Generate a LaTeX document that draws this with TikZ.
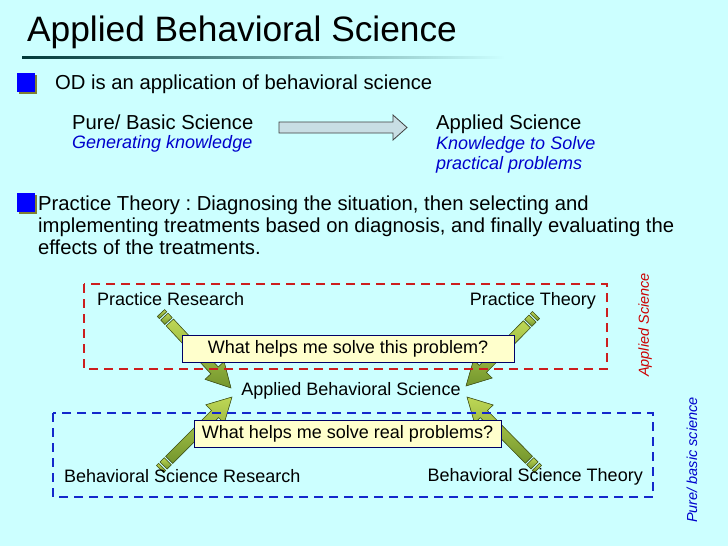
\documentclass[tikz,border=0pt]{standalone}
\usepackage{fontspec}
\setmainfont{Liberation Sans}
\usetikzlibrary{calc}
\frenchspacing
\definecolor{bg}{RGB}{204,255,255}
\definecolor{bul}{RGB}{0,0,255}
\definecolor{bulsh}{RGB}{128,128,50}
\definecolor{itblue}{RGB}{0,0,204}
\definecolor{itred}{RGB}{204,0,0}
\definecolor{dred}{RGB}{204,30,30}
\definecolor{dblue}{RGB}{20,40,204}
\definecolor{qfill}{RGB}{255,255,204}
\definecolor{qline}{RGB}{0,0,102}
\definecolor{arlight}{RGB}{190,215,85}
\definecolor{ardark}{RGB}{115,150,45}
\definecolor{arline}{RGB}{70,90,30}
\definecolor{blk}{RGB}{200,222,228}

% green striped arrow from #1 to #2
\newcommand\stripearrow[2]{%
  \path let \p1=(#1), \p2=(#2) in \pgfextra{%
    \pgfmathsetmacro\arang{atan2(\y2-\y1,\x2-\x1)}%
    \pgfmathsetmacro\arlen{veclen(\x2-\x1,\y2-\y1)}%
    \xdef\arang{\arang}\xdef\arlen{\arlen}};
  \begin{scope}[shift={(#1)}, rotate=\arang, x=1pt, y=1pt]
    \filldraw[sarrow] (0,-5) rectangle (3,5);
    \filldraw[sarrow] (5,-5) rectangle (11,5);
    \filldraw[sarrow] (13,-5) -- ({\arlen-24},-5) -- ({\arlen-24},-13)
      -- (\arlen,0) -- ({\arlen-24},13) -- ({\arlen-24},5) -- (13,5) -- cycle;
  \end{scope}}

\begin{document}
\begin{tikzpicture}[
    x=1pt, y=-1pt,
    every node/.style={inner sep=0pt, anchor=base west},
    sarrow/.style={draw=arline, line width=.6pt, top color=arlight, bottom color=ardark},
    qbox/.style={draw=qline, fill=qfill, line width=1pt, minimum height=27pt, anchor=center},
    frame/.style={line width=2.5pt, dash pattern=on 9pt off 6pt}]

      \fill[bg] (0,0) rectangle (728,546);

      {\fontsize{35.3}{40}\selectfont
      \node (title) at (27,41) {Applied Behavioral Science};
      }
      \fill[left color=black!55!teal, right color=bg] (22,56.5) rectangle (505,58.5);

      % bullets
      \foreach \y in {73,193} {
        \fill[bulsh] (19,\y+2) rectangle (37,\y+21);
        \fill[bul] (17,\y) rectangle (35,\y+19);
      }

      {\fontsize{20.25}{24}\selectfont
      \node (od) at (55,89) {OD is an application of behavioral science};
      \node (pure) at (72,129) {Pure/ Basic Science};
      \node (appl) at (436,129) {Applied Science};
      \node (pt1) at (38,210) {Practice Theory : Diagnosing the situation, then selecting and};
      \node (pt2) at (38,232) {implementing treatments based on diagnosis, and finally evaluating the};
      \node (pt3) at (38,254) {effects of the treatments.};
      }

      {\fontsize{18}{21}\selectfont\itshape\color{itblue}
      \node (gen) at (72,148) {Generating knowledge};
      \node (kn1) at (436,149) {Knowledge to Solve};
      \node (kn2) at (436,169) {practical problems};
      }

      \filldraw[fill=blk, draw=black!75, line width=.8pt]
        (279,122) -- (393,122) -- (393,115) -- (407,127.5) -- (393,140) -- (393,133) -- (279,133) -- cycle;

      % lower part
      \coordinate (prT) at (161,313);  \coordinate (prH) at (231,388);
      \coordinate (ptT) at (536,315);  \coordinate (ptH) at (466,386);
      \coordinate (bsrT) at (160,469); \coordinate (bsrH) at (232,397);
      \coordinate (bstT) at (538,469); \coordinate (bstH) at (467,397);

      \stripearrow{prT}{prH}
      \stripearrow{ptT}{ptH}
      \stripearrow{bsrT}{bsrH}
      \stripearrow{bstT}{bstH}

      \draw[frame, dred] (84,284) rectangle (607,369);
      \draw[frame, dblue] (53,413) rectangle (653,497);

      {\fontsize{18}{21}\selectfont
      \node (pres) at (97,305) {Practice Research};
      \node[anchor=base east] (pth) at (596,305) {Practice Theory};
      \node[anchor=base] (abs) at (351,395) {Applied Behavioral Science};
      \node (bsr) at (64,482) {Behavioral Science Research};
      \node[anchor=base east] (bst) at (643,481) {Behavioral Science Theory};
      \node[qbox, minimum width=332pt] (q1) at (348,348.5) {What helps me solve this problem?};
      \node[qbox, minimum width=307pt] (q2) at (347.5,434) {What helps me solve real problems?};
      }

      {\fontsize{14.5}{17}\selectfont\itshape
      \node[anchor=center, rotate=90, text=itred] (asci) at (645,325) {Applied Science};
      \node[anchor=center, rotate=90, text=itblue] (psci) at (692,460) {Pure/ basic science};
      }

\end{tikzpicture}
\end{document}
